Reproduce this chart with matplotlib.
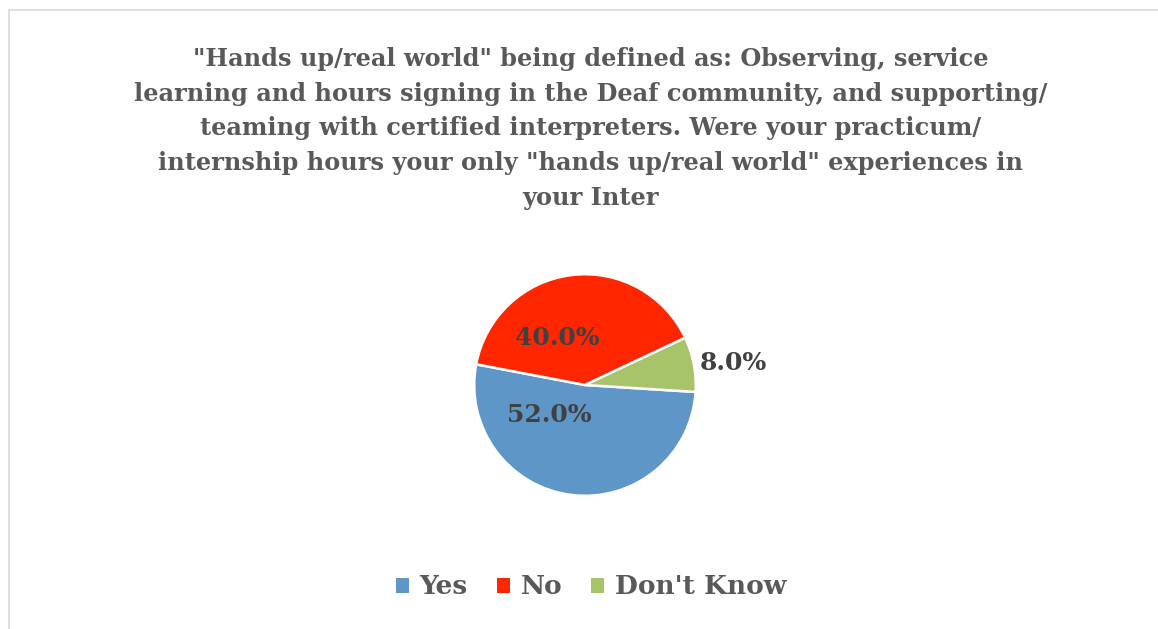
import matplotlib
matplotlib.use("Agg")
import matplotlib.pyplot as plt
from matplotlib.lines import Line2D
from matplotlib.patches import Patch

TITLE = ('"Hands up/real world" being defined as: Observing, service\n'
         'learning and hours signing in the Deaf community, and supporting/\n'
         'teaming with certified interpreters. Were your practicum/\n'
         'internship hours your only "hands up/real world" experiences in\n'
         'your Inter')
categories = ["Yes", "No", "Don't Know"]
shares = [52.0, 40.0, 8.0]
colors = ["#5F96C8", "#FF2600", "#A8C46B"]
# label spots in pie radius units (Excel "best fit")
label_pos = [(-0.32, -0.27), (-0.25, 0.42), (1.34, 0.20)]

FONT = "DejaVu Serif"
W, H = 1158, 629

fig = plt.figure(figsize=(W / 100, H / 100), dpi=100)

# chart area border, only top and left visible in the crop
fig.add_artist(Line2D([9 / W, 9 / W], [0, 1 - 10 / H], color="#D9D9D9", lw=1.2))
fig.add_artist(Line2D([9 / W, 1], [1 - 10 / H, 1 - 10 / H], color="#D9D9D9", lw=1.2))

fig.text(591 / W, 1 - 47 / H, TITLE, ha="center", va="top", fontsize=17.3,
         fontweight="bold", family=FONT, color="#595959", linespacing=1.56)

cx, cy, r = 585, 385, 113
ax = fig.add_axes([(cx - r) / W, (H - cy - r) / H, 2 * r / W, 2 * r / H])
wedges, _, autotexts = ax.pie(
    shares, colors=colors, startangle=-3.6, counterclock=False,
    autopct="%.1f%%", radius=1,
    wedgeprops=dict(edgecolor="white", linewidth=1.8),
    textprops=dict(fontsize=18, fontweight="bold", family=FONT, color="#404040"),
)
for t, pos in zip(autotexts, label_pos):
    t.set_position(pos)
    t.set_ha("center")
    t.set_va("center")
ax.set_xlim(-1.02, 1.02)
ax.set_ylim(-1.02, 1.02)
ax.set_aspect("equal")
ax.axis("off")

handles = [Patch(facecolor=c, edgecolor="none") for c in colors]
leg = fig.legend(handles, categories, loc="center", bbox_to_anchor=(591 / W, 1 - 587 / H),
                 ncol=3, frameon=False, handlelength=0.5, handleheight=0.5,
                 handletextpad=0.4, columnspacing=1.1,
                 prop=dict(size=19, weight="bold", family=FONT))
for t in leg.get_texts():
    t.set_color("#595959")

plt.savefig("out.png", dpi=100)
